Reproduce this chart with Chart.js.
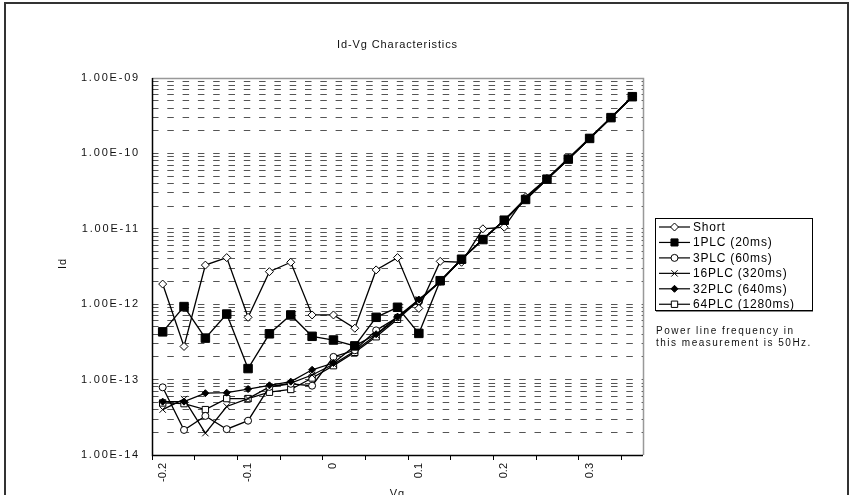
<!DOCTYPE html>
<html lang="en">
<head>
<meta charset="UTF-8">
<title>Id-Vg Characteristics</title>
<script src="https://cdn.jsdelivr.net/npm/chart.js@4.4.1/dist/chart.umd.min.js"></script>
<style>
  html, body { margin: 0; padding: 0; background: #fff; }
  canvas { display: block; }
</style>
</head>
<body>
<canvas id="idvg" width="852" height="495"></canvas>
<script>
  // gate voltage steps (category axis, like the original spreadsheet chart)
  const vg = [-0.2, -0.175, -0.15, -0.125, -0.1, -0.075, -0.05, -0.025, 0, 0.025, 0.05, 0.075,
              0.1, 0.125, 0.15, 0.175, 0.2, 0.225, 0.25, 0.275, 0.3, 0.325, 0.35];

  const shortData = [1.85e-12, 2.75e-13, 3.3e-12, 4.15e-12, 6.7e-13, 2.7e-12, 3.6e-12, 7.2e-13, 7.2e-13, 4.8e-13, 2.85e-12, 4.15e-12,
                     8.8e-13, 3.7e-12, 3.6e-12, 1.0e-11, 1.05e-11, 2.65e-11, 4.65e-11, 8.6e-11, 1.6e-10, 3.0e-10, 5.7e-10];
  const plc1  = [4.3e-13, 9.3e-13, 3.55e-13, 7.4e-13, 1.4e-13, 4.05e-13, 7.2e-13, 3.75e-13, 3.35e-13, 2.8e-13, 6.7e-13, 9.1e-13,
                 4.1e-13, 2.05e-12, 3.95e-12, 7.2e-12, 1.3e-11, 2.45e-11, 4.55e-11, 8.4e-11, 1.58e-10, 2.98e-10, 5.65e-10];
  const plc3  = [7.9e-14, 2.15e-14, 3.3e-14, 2.2e-14, 2.85e-14, 8.0e-14, 8.8e-14, 8.3e-14, 2.0e-13, 2.45e-13, 4.5e-13, 6.7e-13,
                 1.1e-12, 2.0e-12, 3.9e-12, 7.2e-12, 1.3e-11, 2.55e-11, 4.6e-11, 8.4e-11, 1.58e-10, 2.98e-10, 5.65e-10];
  const plc16 = [4.0e-14, 5.5e-14, 1.95e-14, 4.4e-14, 5.6e-14, 8.0e-14, 9.0e-14, 1.15e-13, 1.6e-13, 2.4e-13, 3.9e-13, 6.6e-13,
                 1.15e-12, 2.0e-12, 3.95e-12, 7.3e-12, 1.3e-11, 2.45e-11, 4.5e-11, 8.3e-11, 1.56e-10, 2.95e-10, 5.6e-10];
  const plc32 = [5.1e-14, 5.1e-14, 6.6e-14, 6.7e-14, 7.5e-14, 8.4e-14, 9.4e-14, 1.35e-13, 1.66e-13, 2.8e-13, 4.0e-13, 6.8e-13,
                 1.15e-12, 2.0e-12, 3.95e-12, 7.3e-12, 1.3e-11, 2.45e-11, 4.55e-11, 8.4e-11, 1.58e-10, 2.98e-10, 5.65e-10];
  const plc64 = [4.9e-14, 4.8e-14, 4.0e-14, 5.6e-14, 5.6e-14, 6.8e-14, 7.4e-14, 1.05e-13, 1.53e-13, 2.3e-13, 3.7e-13, 6.3e-13,
                 1.12e-12, 2.0e-12, 3.95e-12, 7.3e-12, 1.3e-11, 2.45e-11, 4.55e-11, 8.4e-11, 1.58e-10, 2.98e-10, 5.65e-10];

  const seriesNames = ['Short', '1PLC (20ms)', '3PLC (60ms)', '16PLC (320ms)', '32PLC (640ms)', '64PLC (1280ms)'];
  const seriesValues = [shortData, plc1, plc3, plc16, plc32, plc64];

  const xTickValues = [-0.2, -0.1, 0, 0.1, 0.2, 0.3];
  const xTickLabels = ['-0.2', '-0.1', '0', '0.1', '0.2', '0.3'];
  const yDecades = [-14, -13, -12, -11, -10, -9];
  const yTickLabels = ['1.00E-14', '1.00E-13', '1.00E-12', '1.00E-11', '1.00E-10', '1.00E-09'];
  const yMinor = [1, 2, 3, 4, 5, 6, 7, 8, 9];

  const noteLines = ['Power line frequency in', 'this measurement is 50Hz.'];

  // marker look per series; 1PLC sits on top like in the original
  const markers = [
    {style: 'rectRot', radius: 4, fill: '#fff', order: 1},
    {style: 'rect', radius: 6, fill: '#000', order: -1},
    {style: 'circle', radius: 3.5, fill: '#fff', order: 2},
    {style: 'crossRot', radius: 4.5, fill: '#000', order: 3},
    {style: 'rectRot', radius: 3.5, fill: '#000', order: 0},
    {style: 'rect', radius: 4.5, fill: '#fff', order: 4}
  ];

  const FONT = '"Liberation Sans", Arial, sans-serif';

  function drawMarker(c, m, x, y) {
    const r = m.radius;
    c.beginPath();
    if (m.style === 'circle') {
      c.arc(x, y, r, 0, Math.PI * 2);
    } else if (m.style === 'rect') {
      const s = r * Math.SQRT1_2;
      c.rect(x - s, y - s, 2 * s, 2 * s);
    } else if (m.style === 'rectRot') {
      c.moveTo(x, y - r); c.lineTo(x + r, y); c.lineTo(x, y + r); c.lineTo(x - r, y); c.closePath();
    } else if (m.style === 'crossRot') {
      const s = r * Math.SQRT1_2;
      c.moveTo(x - s, y - s); c.lineTo(x + s, y + s);
      c.moveTo(x - s, y + s); c.lineTo(x + s, y - s);
      c.stroke();
      return;
    }
    c.fillStyle = m.fill;
    c.fill();
    c.stroke();
  }

  const decor = {
    id: 'decor',
    beforeDraw(chart) {
      const c = chart.ctx;
      c.save();
      c.fillStyle = '#fff';
      c.fillRect(0, 0, chart.width, chart.height);
      c.restore();
      // y tick labels are drawn spaced out in the original
      c.letterSpacing = '1.8px';
    },
    beforeDatasetsDraw(chart) {
      chart.ctx.letterSpacing = '0px';
    },
    afterDraw(chart) {
      const c = chart.ctx;
      const a = chart.chartArea;
      c.save();

      // plot frame: grey top/right, black axes
      c.lineWidth = 1.5;
      c.strokeStyle = '#999';
      c.beginPath();
      c.moveTo(a.left, a.top + 0.5);
      c.lineTo(a.right + 0.5, a.top + 0.5);
      c.lineTo(a.right + 0.5, a.bottom);
      c.stroke();
      c.strokeStyle = '#000';
      c.beginPath();
      c.moveTo(a.left + 0.5, a.top);
      c.lineTo(a.left + 0.5, a.bottom + 0.5);
      c.lineTo(a.right, a.bottom + 0.5);
      c.stroke();

      // outer frame
      c.lineWidth = 2;
      c.strokeStyle = '#333';
      c.strokeRect(5, 3, 843, 520);

      // titles
      c.fillStyle = '#111';
      c.font = '11px ' + FONT;
      c.letterSpacing = '0.9px';
      c.textAlign = 'center';
      c.textBaseline = 'middle';
      c.fillText('Id-Vg Characteristics', (a.left + a.right) / 2, 45);
      c.fillText('Vg', (a.left + a.right) / 2, 494);
      c.save();
      c.translate(63, (a.top + a.bottom) / 2 - 3);
      c.rotate(-Math.PI / 2);
      c.fillText('Id', 0, 0);
      c.restore();

      // legend box
      const lx = 655, ly = 218, lw = 157, lh = 92;
      c.fillStyle = '#fff';
      c.fillRect(lx, ly, lw, lh);
      c.lineWidth = 1;
      c.strokeStyle = '#000';
      c.strokeRect(lx + 0.5, ly + 0.5, lw, lh);
      c.strokeStyle = '#888';
      c.beginPath();
      c.moveTo(lx + 1, ly + lh + 1.5);
      c.lineTo(lx + lw + 1, ly + lh + 1.5);
      c.stroke();

      c.font = '12px ' + FONT;
      c.letterSpacing = '0.8px';
      c.textAlign = 'left';
      chart.data.datasets.forEach((ds, i) => {
        const y = ly + 9 + i * 15.45;
        c.strokeStyle = '#000';
        c.lineWidth = 1.2;
        c.beginPath();
        c.moveTo(lx + 4, y);
        c.lineTo(lx + 35, y);
        c.stroke();
        c.lineWidth = 1;
        const m = Object.assign({}, markers[i], {radius: Math.min(markers[i].radius, 5)});
        drawMarker(c, m, lx + 19.5, y);
        c.fillStyle = '#000';
        c.fillText(ds.label, lx + 38, y + 0.5);
      });

      // note under the legend
      c.font = '10px ' + FONT;
      c.letterSpacing = '1.5px';
      c.fillStyle = '#111';
      noteLines.forEach((t, i) => c.fillText(t, 656, 331 + i * 12));

      c.restore();
    }
  };

  const datasets = seriesNames.map((name, i) => ({
    label: name,
    data: seriesValues[i],
    order: markers[i].order,
    borderColor: '#000',
    borderWidth: 1.3,
    backgroundColor: markers[i].fill,
    pointStyle: markers[i].style,
    pointRadius: markers[i].radius,
    pointBorderColor: '#000',
    pointBorderWidth: 1,
    pointBackgroundColor: markers[i].fill,
    tension: 0,
    fill: false
  }));

  new Chart(document.getElementById('idvg'), {
    type: 'line',
    data: {
      labels: vg.map(String),
      datasets: datasets
    },
    options: {
      responsive: false,
      animation: false,
      devicePixelRatio: 1,
      layout: {padding: {left: 0, top: 78, right: 209, bottom: 0}},
      plugins: {
        legend: {display: false},
        title: {display: false},
        tooltip: {enabled: false}
      },
      scales: {
        x: {
          type: 'category',
          offset: true,
          afterFit: (s) => { s.height = 40; },
          border: {display: false},
          grid: {
            offset: true,
            drawOnChartArea: false,
            drawTicks: true,
            tickLength: 5,
            tickWidth: 1,
            tickColor: (ctx) => (ctx.index !== undefined && ctx.index % 2 === 0) ? '#000' : 'rgba(0,0,0,0)'
          },
          ticks: {
            z: 1,
            autoSkip: false,
            minRotation: 90,
            maxRotation: 90,
            padding: 3,
            color: '#111',
            font: {family: FONT, size: 11},
            callback: (val, index) => {
              const k = xTickValues.findIndex(t => Math.abs(t - vg[index]) < 1e-9);
              return k >= 0 ? xTickLabels[k] : '';
            }
          }
        },
        y: {
          type: 'logarithmic',
          min: 1e-14,
          max: 1e-9,
          afterFit: (s) => { s.width = 152; },
          afterBuildTicks: (s) => {
            const ticks = [];
            yDecades.forEach((d, i) => {
              if (i === yDecades.length - 1) {
                ticks.push({value: Math.pow(10, d)});
              } else {
                yMinor.forEach(m => ticks.push({value: m * Math.pow(10, d)}));
              }
            });
            s.ticks = ticks;
          },
          border: {display: false, dash: [6.5, 8.8]},
          grid: {
            color: '#555',
            lineWidth: 1,
            drawTicks: false
          },
          ticks: {
            autoSkip: false,
            padding: 12,
            color: '#111',
            font: {family: FONT, size: 11},
            callback: (val) => {
              const e = Math.round(Math.log10(val));
              if (Math.abs(val / Math.pow(10, e) - 1) > 1e-6) return '';
              const k = yDecades.indexOf(e);
              return k >= 0 ? yTickLabels[k] : '';
            }
          }
        }
      }
    },
    plugins: [decor]
  });
</script>
</body>
</html>
